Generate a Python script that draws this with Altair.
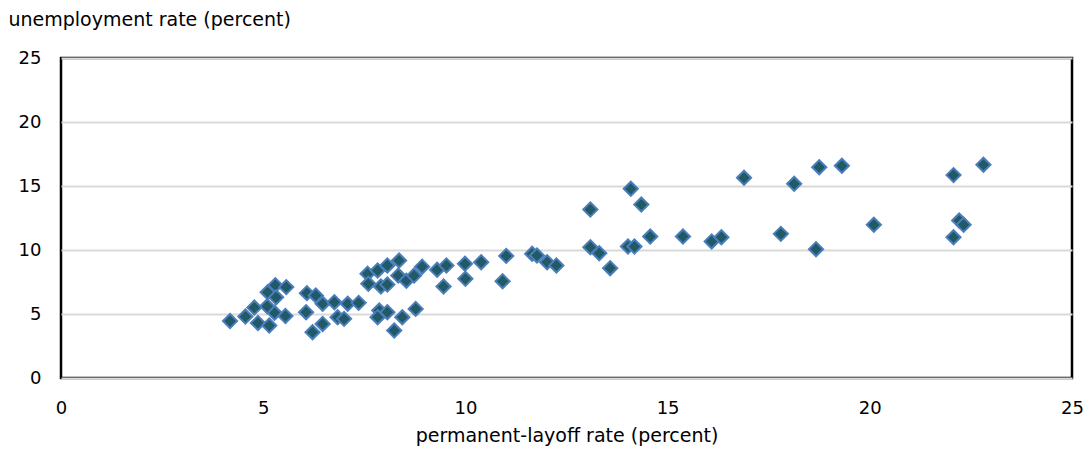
import altair as alt
import pandas as pd

layoff_rate = [4.18, 4.56, 4.78, 4.87, 5.15, 5.11, 5.30, 5.57, 5.32, 5.28, 5.55, 5.10,
               6.06, 6.08, 6.30, 6.47, 6.22, 6.47, 6.76, 6.84, 7.00, 7.09, 7.36,
               7.58, 7.60, 7.83, 7.91, 8.07, 8.07, 8.36, 8.34, 8.54, 8.73, 8.93,
               7.87, 7.83, 8.07, 8.24, 8.44, 8.77, 9.30, 9.53, 9.46, 9.99, 10.00,
               10.39, 11.01, 10.92, 11.65, 11.77, 12.02, 12.25, 13.09, 14.09, 14.35,
               13.09, 13.31, 13.58, 14.02, 14.18, 14.57, 15.38, 16.09, 16.33, 16.89,
               17.80, 18.13, 18.67, 18.75, 19.31, 20.10, 22.07, 22.81, 22.07, 22.21, 22.32]
unemp_rate = [4.45, 4.80, 5.50, 4.30, 4.10, 6.70, 7.25, 7.10, 6.30, 5.10, 4.85, 5.60,
              5.14, 6.63, 6.45, 5.80, 3.58, 4.22, 5.92, 4.75, 4.62, 5.80, 5.87,
              8.14, 7.36, 8.40, 7.15, 8.79, 7.30, 9.18, 8.00, 7.60, 8.00, 8.70,
              5.27, 4.75, 5.14, 3.71, 4.75, 5.40, 8.45, 8.79, 7.15, 8.92, 7.75,
              9.05, 9.54, 7.56, 9.70, 9.57, 9.05, 8.79, 13.16, 14.78, 13.55,
              10.22, 9.75, 8.58, 10.27, 10.27, 11.05, 11.05, 10.67, 11.00, 15.64,
              11.26, 15.17, 10.06, 16.47, 16.58, 11.97, 15.85, 16.66, 11.00, 12.30, 11.97]

x_ticks = [0, 5, 10, 15, 20, 25]
y_ticks = [0, 5, 10, 15, 20, 25]

df = pd.DataFrame({"layoff": layoff_rate, "unemp": unemp_rate})

FONT = "DejaVu Sans"

chart = alt.Chart(df).mark_point(
    shape="diamond", filled=True, fill="#215967", stroke="#4A7EBB",
    strokeWidth=2, size=200, opacity=1
).encode(
    x=alt.X("layoff:Q", scale=alt.Scale(domain=[0, 25], nice=False),
            axis=alt.Axis(values=x_ticks, title="permanent-layoff rate (percent)",
                          grid=False, domain=False, ticks=False, labelPadding=21,
                          labelFlush=False,
                          labelFontSize=18, labelColor="#000", labelFont=FONT,
                          titleFont=FONT, titleFontSize=19, titleFontWeight="normal",
                          titleColor="#000", titleY=57, titleBaseline="middle")),
    y=alt.Y("unemp:Q", scale=alt.Scale(domain=[0, 25], nice=False),
            axis=alt.Axis(values=y_ticks, title="unemployment rate (percent)",
                          grid=True, gridColor="#D9D9D9", gridWidth=2,
                          domain=False, ticks=False, labelPadding=20,
                          labelFlush=False,
                          labelFontSize=18, labelColor="#000", labelFont=FONT,
                          titleFont=FONT, titleFontSize=19, titleFontWeight="normal",
                          titleColor="#000", titleAngle=0, titleAlign="left",
                          titleBaseline="middle", titleX=-53, titleY=-39)),
).properties(
    width=1011, height=320,
    autosize=alt.AutoSizeParams(type="none"),
    padding={"left": 53, "top": 50, "right": 11, "bottom": 70},
).configure(background="white").configure_view(
    stroke="#000", strokeWidth=2.5
)

chart.save("out.html", embed_options={"renderer": "svg", "actions": False})
